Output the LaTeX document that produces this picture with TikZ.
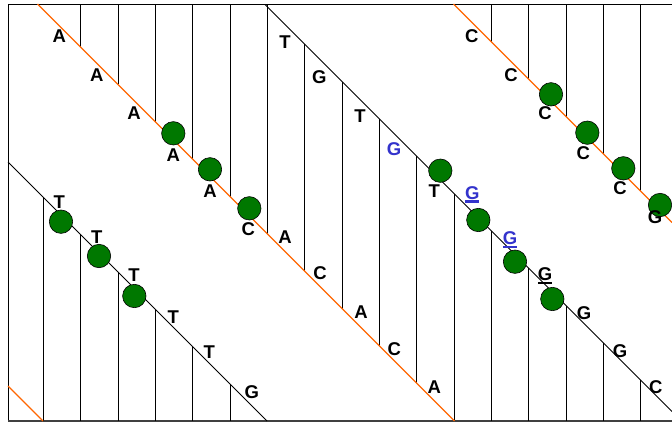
\documentclass[tikz,border=0pt]{standalone}
\usepackage{fontspec}
\setmainfont{Liberation Sans}
\definecolor{dnaorange}{RGB}{255,102,0}
\definecolor{dnagreen}{RGB}{0,120,0}
\definecolor{dnablue}{RGB}{51,51,204}
\newcommand{\ulbox}[1]{\setbox0\hbox{#1}\rlap{\smash{\rule[-3.7pt]{\wd0}{2.4pt}}}\box0}
\begin{document}
\begin{tikzpicture}[x=1pt,y=-1pt,
  rung/.style={black, line width=0.9pt},
  bstrand/.style={black, line width=0.9pt},
  ostrand/.style={dnaorange, line width=1.1pt},
  bead/.style={circle, draw=black, line width=0.6pt, fill=dnagreen, minimum size=23.4pt, inner sep=0pt},
  lbl/.style={font=\fontsize{18.5}{20}\selectfont\bfseries, inner sep=0pt},
  blbl/.style={lbl, text=dnablue},
]
\useasboundingbox (0,0) rectangle (672,423);
% frame
\draw[line width=1pt] (672,4) -- (8,4) -- (8,421);
\draw[line width=1.3pt, black!75] (8,421) -- (672,421);
% rungs
\foreach \k in {2,...,6} {
  \pgfmathsetmacro\xx{43.3+37.34*(\k-1)}
  \draw[rung] (\xx,4) -- (\xx,\xx-33.5);
  \draw[rung] (\xx,\xx+154) -- (\xx,421);
}
\draw[rung] (43.3,197.3) -- (43.3,421);
\draw[rung] (267.3,4) -- (267.3,233.8);
\foreach \k in {8,...,11} {
  \pgfmathsetmacro\xx{43.3+37.34*(\k-1)}
  \draw[rung] (\xx,\xx-260.5) -- (\xx,\xx-33.5);
}
\draw[rung] (454,193.5) -- (454,421);
\foreach \k in {13,...,17} {
  \pgfmathsetmacro\xx{43.3+37.34*(\k-1)}
  \draw[rung] (\xx,4) -- (\xx,\xx-449.5);
  \draw[rung] (\xx,\xx-260.5) -- (\xx,421);
}
% strands
\draw[ostrand] (37.5,4) -- (454.5,421);
\draw[ostrand] (453.5,4) -- (672,222.5);
\draw[ostrand] (8,386) -- (43,421);
\draw[bstrand] (265,4.5) -- (672,411.5);
\draw[bstrand] (8,162) -- (267,421);
% beads
\foreach \n/\p in {b1/{(173.3,133.3)}, b2/{(210,169.3)}, b3/{(249.3,208.3)},
                   b4/{(440.3,170.7)}, b5/{(478.3,220)}, b6/{(515,261.7)}, b7/{(552.3,299)},
                   b8/{(551,94.3)}, b9/{(587.3,132.7)}, b10/{(623.3,168.3)}, b11/{(660,205)},
                   b12/{(61,221.7)}, b13/{(99,256)}, b14/{(134.3,296)}}
  \node[bead] (\n) at \p {};
% labels
\node[lbl] (l1) at (59.3,36) {A};
\node[lbl] (l2) at (96.7,75) {A};
\node[lbl] (l3) at (134,112.7) {A};
\node[lbl] (l4) at (173.3,155.3) {A};
\node[lbl] (l5) at (210,191) {A};
\node[lbl] (l6) at (248.3,229.3) {C};
\node[lbl] (l7) at (285,237.3) {A};
\node[lbl] (l8) at (320,273.3) {C};
\node[lbl] (l9) at (361,312.3) {A};
\node[lbl] (l10) at (394.3,349.3) {C};
\node[lbl] (l11) at (434.3,386.7) {A};
\node[lbl] (m1) at (285,42.3) {T};
\node[lbl] (m2) at (319.3,76.7) {G};
\node[lbl] (m3) at (360,116) {T};
\node[blbl] (m4) at (394,149.3) {G};
\node[lbl] (m5) at (434.3,190.7) {T};
\node[blbl] (m6) at (472.3,192.7) {\ulbox{G}};
\node[blbl] (m7) at (510,238.3) {\ulbox{G}};
\node[lbl] (m8) at (545,274.3) {\ulbox{G}};
\node[lbl] (m9) at (584,312.7) {G};
\node[lbl] (m10) at (620,350.7) {G};
\node[lbl] (m11) at (655.7,387.3) {C};
\node[lbl] (r1) at (471.7,36) {C};
\node[lbl] (r2) at (511,75) {C};
\node[lbl] (r3) at (545,113.3) {C};
\node[lbl] (r4) at (583.3,153.3) {C};
\node[lbl] (r5) at (620,188.3) {C};
\node[lbl] (r6) at (655,216.7) {G};
\node[lbl] (s1) at (59.3,201.7) {T};
\node[lbl] (s2) at (96.7,237.3) {T};
\node[lbl] (s3) at (134,275) {T};
\node[lbl] (s4) at (173.3,316.7) {T};
\node[lbl] (s5) at (209.3,351.7) {T};
\node[lbl] (s6) at (251.7,391.7) {G};
\end{tikzpicture}
\end{document}
